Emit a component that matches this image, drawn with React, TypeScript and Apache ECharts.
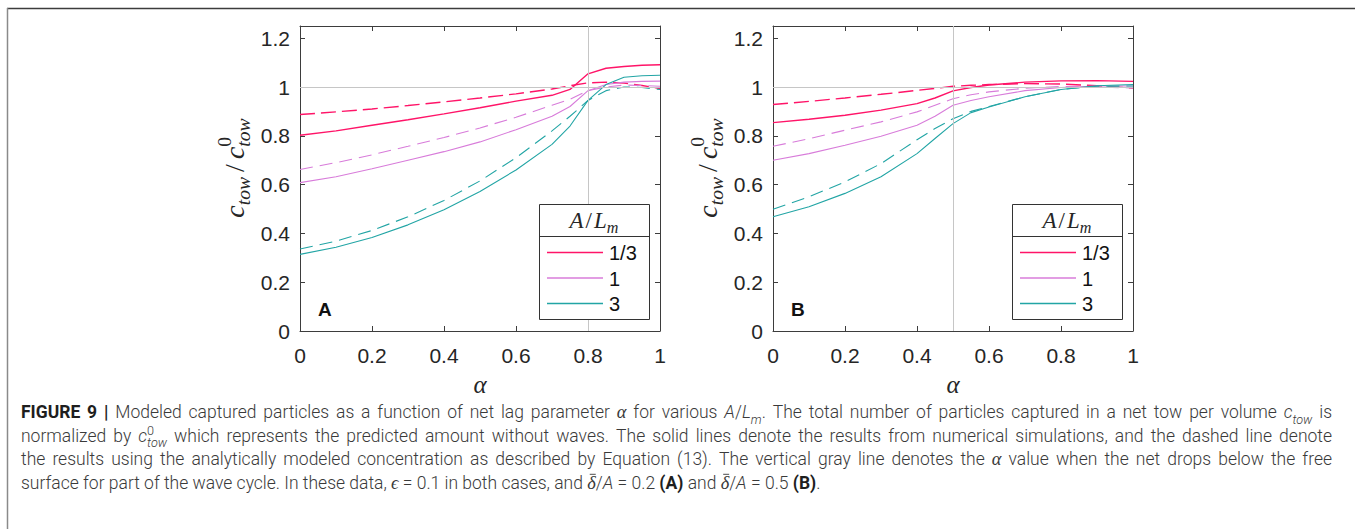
import React, { useEffect, useRef } from "react";
import * as echarts from "echarts";

// ---------------- DATA ----------------
const alphaA = [0, 0.1, 0.2, 0.3, 0.4, 0.5, 0.6, 0.7, 0.75, 0.8, 0.85, 0.9, 0.95, 1];
const redSolidA = [0.802, 0.82, 0.843, 0.866, 0.89, 0.915, 0.942, 0.966, 0.99, 1.054, 1.077, 1.084, 1.089, 1.091];
const redDashA = [0.887, 0.898, 0.91, 0.924, 0.939, 0.955, 0.972, 0.992, 1.005, 1.017, 1.02, 1.016, 1.006, 0.994];
const magSolidA = [0.608, 0.632, 0.665, 0.7, 0.735, 0.775, 0.825, 0.88, 0.92, 0.985, 1.01, 1.02, 1.023, 1.024];
const magDashA = [0.662, 0.69, 0.722, 0.757, 0.793, 0.832, 0.876, 0.925, 0.95, 0.985, 1.0, 1.008, 1.006, 1.003];
const tealSolidA = [0.314, 0.343, 0.383, 0.435, 0.497, 0.572, 0.66, 0.765, 0.84, 0.945, 1.01, 1.04, 1.046, 1.048];
const tealDashA = [0.336, 0.368, 0.412, 0.468, 0.535, 0.615, 0.71, 0.82, 0.88, 0.945, 0.985, 1.0, 0.998, 0.99];

const alphaB = [0, 0.1, 0.2, 0.3, 0.4, 0.45, 0.5, 0.55, 0.6, 0.7, 0.8, 0.9, 1];
const redSolidB = [0.854, 0.868, 0.884, 0.905, 0.932, 0.955, 0.984, 0.998, 1.008, 1.02, 1.025, 1.026, 1.023];
const redDashB = [0.928, 0.941, 0.955, 0.97, 0.986, 0.994, 1.003, 1.007, 1.01, 1.014, 1.012, 1.005, 0.996];
const magSolidB = [0.7, 0.727, 0.761, 0.798, 0.843, 0.88, 0.925, 0.945, 0.96, 0.985, 0.998, 1.004, 1.004];
const magDashB = [0.757, 0.788, 0.823, 0.857, 0.898, 0.925, 0.952, 0.968, 0.98, 0.995, 1.002, 1.0, 0.996];
const tealSolidB = [0.468, 0.509, 0.564, 0.632, 0.727, 0.789, 0.85, 0.895, 0.918, 0.96, 0.99, 1.005, 1.01];
const tealDashB = [0.499, 0.55, 0.611, 0.686, 0.784, 0.83, 0.87, 0.9, 0.92, 0.96, 0.99, 1.003, 1.004];

const legendLabels = ["1/3", "1", "3"];
const seriesColors = ["#FF1468", "#D87CDA", "#22A5A5"];
const panelLetters = ["A", "B"];
const refAlpha = [0.8, 0.5];
const refLevel = 1;
const xMin = 0, xMax = 1, xStep = 0.2;
const yMin = 0, yMax = 1.25, yStep = 0.2;

const captionLines = [
  "{b|FIGURE} {b|9} {b||} Modeled captured particles as a function of net lag parameter {m|α} for various {i|A}/{i|L}{sub|m}. The total number of particles captured in a net tow per volume {i|c}{sub|tow} is",
  "normalized by {i|c}{st|0|tow} which represents the predicted amount without waves. The solid lines denote the results from numerical simulations, and the dashed line denote",
  "the results using the analytically modeled concentration as described by Equation (13). The vertical gray line denotes the {m|α} value when the net drops below the free",
  "surface for part of the wave cycle. In these data, {m|ϵ} = 0.1 in both cases, and {bar|δ}/{i|A} = 0.2 {b|(A)} and {bar|δ}/{i|A} = 0.5 {b|(B)}.",
];
const yLabelWords = ["{m|c}{sub|tow}", "{n|/}", "{m|c}{st|0|tow}"];
const legendTitleWords = ["{m|A}", "{n|/}", "{m|L}{sub|m}"];
const xLabelText = "α";

// ---------------- LAYOUT ----------------
const W = 1355, H = 529;
const grids = [
  { left: 300, top: 26, width: 360, height: 305 },
  { left: 773, top: 26, width: 360, height: 305 },
];
const AX = "#3d3d3d";
const TXT = "#262626";
const SANS = "Liberation Sans";
const SERIF = "Liberation Serif";

type St = { family: string; size: number; style?: string; weight?: string | number; dy?: number; color: string };
type Seg = { t: string; s: string } | { stack: [string, string] };

let ctx: CanvasRenderingContext2D | null = null;
function measure(text: string, st: St) {
  if (!ctx) ctx = document.createElement("canvas").getContext("2d");
  ctx!.font = `${st.style || "normal"} ${st.weight || "normal"} ${st.size}px '${st.family}'`;
  return ctx!.measureText(text).width;
}
function parse(word: string, def: string): Seg[] {
  const re = /\{(\w+)\|([^}]*)\}/g;
  const out: Seg[] = [];
  let last = 0;
  let m: RegExpExecArray | null;
  while ((m = re.exec(word))) {
    if (m.index > last) out.push({ t: word.slice(last, m.index), s: def });
    if (m[1] === "st") {
      const parts = m[2].split("|");
      out.push({ stack: [parts[0], parts[1]] });
    } else out.push({ t: m[2], s: m[1] });
    last = re.lastIndex;
  }
  if (last < word.length) out.push({ t: word.slice(last), s: def });
  return out;
}
function segStyle(seg: { t: string; s: string }, styles: Record<string, St>) {
  return seg.s === "bar" ? styles.m : styles[seg.s];
}
function segWidth(seg: Seg, styles: Record<string, St>) {
  if ("stack" in seg) return Math.max(measure(seg.stack[0], styles.sup), measure(seg.stack[1], styles.sub));
  return measure(seg.t, segStyle(seg, styles));
}
function textEl(text: string, st: St, x: number, baseline: number) {
  return {
    type: "text",
    silent: true,
    x,
    y: baseline + (st.dy || 0) - 0.345 * st.size,
    style: {
      text,
      fontFamily: st.family,
      fontSize: st.size,
      fontStyle: st.style || "normal",
      fontWeight: st.weight || "normal",
      fill: st.color,
      align: "left",
      verticalAlign: "middle",
    },
  };
}
function wordWidth(word: string, styles: Record<string, St>) {
  return parse(word, "n").reduce((a, s) => a + segWidth(s, styles), 0);
}
function layoutRow(words: string[], styles: Record<string, St>, x0: number, baseline: number, gap: number) {
  const els: any[] = [];
  let x = x0;
  words.forEach((w, wi) => {
    parse(w, "n").forEach((seg) => {
      const sw = segWidth(seg, styles);
      if ("stack" in seg) {
        els.push(textEl(seg.stack[0], styles.sup, x, baseline));
        els.push(textEl(seg.stack[1], styles.sub, x, baseline));
      } else {
        const st = segStyle(seg, styles);
        els.push(textEl(seg.t, st, x, baseline));
        if (seg.s === "bar") {
          const yb = baseline - st.size * 0.8;
          els.push({
            type: "line", silent: true,
            shape: { x1: x + sw * 0.3, y1: yb, x2: x + sw * 1.0, y2: yb },
            style: { stroke: st.color, lineWidth: 0.9 },
          });
        }
      }
      x += sw;
    });
    if (wi < words.length - 1) x += gap;
  });
  return els;
}

function captionStyles(f: number): Record<string, St> {
  const c = "#3a3a3a";
  return {
    n: { family: "Roboto", size: f, weight: 300, color: c },
    b: { family: "Roboto", size: f, weight: 700, color: "#1e1e1e" },
    i: { family: "Roboto", size: f, style: "italic", weight: 300, color: c },
    m: { family: SERIF, size: f * 1.05, style: "italic", color: c },
    sub: { family: "Roboto", size: f * 0.72, style: "italic", weight: 300, dy: f * 0.3, color: c },
    sup: { family: "Roboto", size: f * 0.72, weight: 300, dy: -f * 0.42, color: c },
  };
}
const mathStyles = (f: number): Record<string, St> => ({
  n: { family: SERIF, size: f, color: TXT },
  m: { family: SERIF, size: f, style: "italic", color: TXT },
  sub: { family: SERIF, size: f * 0.7, style: "italic", dy: f * 0.24, color: TXT },
  sup: { family: SERIF, size: f * 0.7, dy: -f * 0.45, color: TXT },
});

function buildGraphics() {
  const g: any[] = [];
  // page frame
  g.push({ type: "line", silent: true, shape: { x1: 7, y1: 8.5, x2: W, y2: 8.5 }, style: { stroke: "#3c3c3c", lineWidth: 1.5 } });
  g.push({ type: "line", silent: true, shape: { x1: 7.5, y1: 8, x2: 7.5, y2: H }, style: { stroke: "#8a8a8a", lineWidth: 1.5 } });

  grids.forEach((gr, p) => {
    const right = gr.left + gr.width;
    const bottom = gr.top + gr.height;
    // y-axis label (rotated)
    const ys = mathStyles(28);
    const gap = 5;
    const tot = yLabelWords.reduce((a, w) => a + wordWidth(w, ys), 0) + gap * (yLabelWords.length - 1);
    g.push({
      type: "group",
      x: gr.left - 56,
      y: gr.top + 142,
      rotation: Math.PI / 2,
      children: layoutRow(yLabelWords, ys, -tot / 2, 0, gap),
    });
    // x-axis label
    g.push({
      type: "text",
      silent: true,
      x: gr.left + gr.width / 2,
      y: bottom + 53,
      style: { text: xLabelText, fontFamily: SERIF, fontStyle: "italic", fontSize: 25, fill: TXT, align: "center", verticalAlign: "middle" },
    });
    // panel letter
    g.push({
      type: "text",
      silent: true,
      x: gr.left + 18,
      y: bottom - 22,
      style: { text: panelLetters[p], fontFamily: SANS, fontWeight: "bold", fontSize: 19, fill: "#111", align: "left", verticalAlign: "middle" },
    });
    // legend box
    const bw = 110, bh = 115;
    const bx = right - 11 - bw;
    const by = bottom - 12 - bh;
    g.push({ type: "rect", silent: true, shape: { x: bx + 0.5, y: by + 0.5, width: bw, height: bh }, style: { fill: "#fff", stroke: "#333", lineWidth: 1 }, z: 10 });
    g.push({ type: "line", silent: true, shape: { x1: bx, y1: by + 32.5, x2: bx + bw, y2: by + 32.5 }, style: { stroke: "#333", lineWidth: 1 }, z: 10 });
    const ls = mathStyles(23);
    const tg = 2;
    const tw = legendTitleWords.reduce((a, w) => a + wordWidth(w, ls), 0) + tg * (legendTitleWords.length - 1);
    layoutRow(legendTitleWords, ls, bx + bw / 2 - tw / 2, by + 24, tg).forEach((e) => g.push({ ...e, z: 11 }));
    legendLabels.forEach((lab, i) => {
      const yy = by + 48.5 + i * 25.5;
      g.push({ type: "line", silent: true, z: 11, shape: { x1: bx + 8, y1: yy, x2: bx + 64, y2: yy }, style: { stroke: seriesColors[i], lineWidth: 1.3 } });
      g.push({
        type: "text", silent: true, z: 11, x: bx + 70, y: yy + 0.5,
        style: { text: lab, fontFamily: SANS, fontSize: 20, fill: "#111", align: "left", verticalAlign: "middle" },
      });
    });
  });

  // caption
  const capLeft = 21, capRight = 1332;
  const baseF = 16;
  const natural4 = (() => {
    const st = captionStyles(baseF);
    const words = captionLines[3].split(" ");
    return words.reduce((a, w) => a + wordWidth(w, st), 0) + measure(" ", st.n) * (words.length - 1);
  })();
  let f = baseF * (822 / natural4);
  f = Math.max(14.5, Math.min(17.5, f));
  const cs = captionStyles(f);
  const baselines = [418.5, 442, 465.5, 489];
  captionLines.forEach((line, li) => {
    const words = line.split(" ");
    const sum = words.reduce((a, w) => a + wordWidth(w, cs), 0);
    const justify = li < captionLines.length - 1;
    const gap = justify ? (capRight - capLeft - sum) / (words.length - 1) : measure(" ", cs.n);
    layoutRow(words, cs, capLeft, baselines[li], gap).forEach((e) => g.push(e));
  });
  return g;
}

function axisBase(extra: any) {
  return {
    type: "value",
    axisLine: { show: true, onZero: false, lineStyle: { color: AX, width: 1 } },
    axisTick: { show: true, inside: true, length: 5, lineStyle: { color: AX, width: 1 } },
    splitLine: { show: false },
    ...extra,
  };
}

function lineSeries(xIdx: number, alpha: number[], vals: number[], color: string, dashed: boolean, width: number) {
  return {
    type: "line",
    xAxisIndex: xIdx,
    yAxisIndex: xIdx,
    data: alpha.map((a, i) => [a, vals[i]]),
    showSymbol: false,
    symbol: "none",
    silent: true,
    lineStyle: { color, width, type: dashed ? (width > 1.2 ? [15, 6] : [13, 7]) : "solid" },
    z: 3,
  };
}

export default function App() {
  const ref = useRef<HTMLDivElement>(null);
  useEffect(() => {
    const chart = echarts.init(ref.current!, null, { renderer: "svg" });
    const xAxes: any[] = [];
    const yAxes: any[] = [];
    grids.forEach((_, p) => {
      const xs = { min: xMin, max: xMax, interval: xStep, gridIndex: p };
      const ys = { min: yMin, max: yMax, interval: yStep, gridIndex: p };
      xAxes.push(axisBase({
        ...xs, position: "bottom",
        axisLabel: { show: true, margin: 14, fontSize: 21, fontFamily: SANS, color: TXT },
      }));
      xAxes.push(axisBase({ ...xs, position: "top", axisLabel: { show: false } }));
      yAxes.push(axisBase({
        ...ys, position: "left",
        axisLabel: { show: true, margin: 10, fontSize: 21, fontFamily: SANS, color: TXT, showMaxLabel: false },
      }));
      yAxes.push(axisBase({ ...ys, position: "right", axisLabel: { show: false } }));
    });
    const panels = [
      { alpha: alphaA, sets: [[redSolidA, redDashA], [magSolidA, magDashA], [tealSolidA, tealDashA]] },
      { alpha: alphaB, sets: [[redSolidB, redDashB], [magSolidB, magDashB], [tealSolidB, tealDashB]] },
    ];
    const series: any[] = [];
    panels.forEach((pn, p) => {
      const xi = p * 2;
      series.push({
        type: "line",
        xAxisIndex: xi,
        yAxisIndex: xi,
        data: [],
        silent: true,
        z: 1,
        markLine: {
          silent: true,
          symbol: ["none", "none"],
          label: { show: false },
          lineStyle: { color: "#c6c6c6", type: "solid", width: 1 },
          data: [{ xAxis: refAlpha[p] }, { yAxis: refLevel }],
        },
      });
      pn.sets.forEach((pair, i) => {
        const w = i === 0 ? 1.4 : 1.1;
        series.push(lineSeries(xi, pn.alpha, pair[1], seriesColors[i], true, w));
        series.push(lineSeries(xi, pn.alpha, pair[0], seriesColors[i], false, w));
      });
    });
    chart.setOption({
      animation: false,
      backgroundColor: "#fff",
      grid: grids.map((g) => ({ ...g, containLabel: false, outerBoundsMode: "none" })),
      xAxis: xAxes,
      yAxis: yAxes,
      series,
      graphic: { elements: buildGraphics() },
    });
    return () => chart.dispose();
  }, []);
  return <div ref={ref} style={{ position: "absolute", left: 0, top: 0, width: W, height: H }} />;
}
